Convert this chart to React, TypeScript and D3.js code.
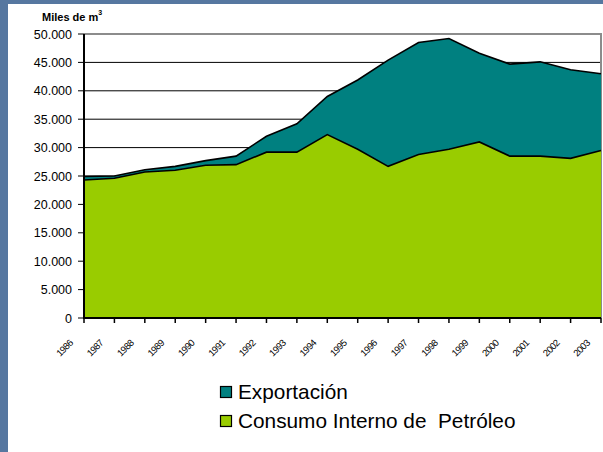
import React, { useEffect, useRef } from "react";
import * as d3 from "d3";

// data (miles de m3)
const years = [
  "1986", "1987", "1988", "1989", "1990", "1991", "1992", "1993", "1994",
  "1995", "1996", "1997", "1998", "1999", "2000", "2001", "2002", "2003",
];
const consumo = [
  24300, 24600, 25700, 26000, 26900, 27000, 29200, 29200, 32300,
  29700, 26700, 28800, 29700, 31000, 28500, 28500, 28100, 29500,
];
const exportacion = [
  600, 400, 400, 700, 800, 1500, 2800, 5000, 6700,
  12200, 18700, 19700, 19500, 15600, 16200, 16600, 15600, 13500,
];
const yTicks = [0, 5000, 10000, 15000, 20000, 25000, 30000, 35000, 40000, 45000, 50000];
const seriesNames = ["Consumo Interno de  Petróleo", "Exportación"];

const W = 603;
const H = 452;
const GREEN = "#99cc00";
const TEAL = "#008080";

const App = () => {
  const ref = useRef<SVGSVGElement>(null);

  useEffect(() => {
    const svg = d3.select(ref.current);
    svg.selectAll("*").remove();

    // slide background
    svg.append("rect").attr("width", W).attr("height", H).attr("fill", "#5677a0");
    svg.append("rect").attr("x", 8).attr("y", 4).attr("width", W - 8).attr("height", H - 4).attr("fill", "#fff");

    const left = 84;
    const right = 601;
    const top = 34;
    const bottom = 318;

    const x = d3.scalePoint<string>().domain(years).range([left, right]);
    const y = d3.scaleLinear().domain([0, 50000]).range([bottom, top]);
    const fmt = d3.formatLocale({ decimal: ",", thousands: ".", grouping: [3], currency: ["", ""] }).format(",d");

    // gridlines
    svg.append("g")
      .selectAll("line")
      .data(yTicks.filter((t) => t > 0 && t < 50000))
      .join("line")
      .attr("x1", left).attr("x2", right)
      .attr("y1", (d) => y(d)).attr("y2", (d) => y(d))
      .attr("stroke", "#000").attr("stroke-width", 1);

    // plot border top/right
    svg.append("path")
      .attr("d", `M${left},${y(50000)}H${right}V${bottom}`)
      .attr("fill", "none").attr("stroke", "#8c8c8c").attr("stroke-width", 2);

    const rows = years.map((yr, i) => ({ year: yr, consumo: consumo[i], exportacion: exportacion[i] }));
    const stacked = d3.stack<any>().keys(["consumo", "exportacion"])(rows);
    const colors = [GREEN, TEAL];

    const area = d3.area<any>()
      .x((d) => x(d.data.year) as number)
      .y0((d) => y(d[0]))
      .y1((d) => y(d[1]));
    const line = d3.line<any>()
      .x((d) => x(d.data.year) as number)
      .y((d) => y(d[1]));

    // draw teal (top) first, then green over it
    [1, 0].forEach((k) => {
      svg.append("path").datum(stacked[k]).attr("d", area).attr("fill", colors[k]);
    });
    [1, 0].forEach((k) => {
      svg.append("path").datum(stacked[k]).attr("d", line)
        .attr("fill", "none").attr("stroke", "#000").attr("stroke-width", 1.6);
    });

    // y axis
    const yAxis = svg.append("g");
    yAxis.append("line").attr("x1", left).attr("x2", left).attr("y1", top).attr("y2", bottom + 1)
      .attr("stroke", "#000").attr("stroke-width", 2);
    yAxis.selectAll("line.t").data(yTicks).join("line").attr("class", "t")
      .attr("x1", left - 6).attr("x2", left).attr("y1", (d) => y(d)).attr("y2", (d) => y(d))
      .attr("stroke", "#000").attr("stroke-width", 1);
    yAxis.selectAll("text").data(yTicks).join("text")
      .attr("x", 72).attr("y", (d) => y(d) + 4.5)
      .attr("text-anchor", "end")
      .attr("font-family", "Liberation Sans, Arial, sans-serif")
      .attr("font-size", 12.5)
      .attr("fill", "#000")
      .text((d) => fmt(d));

    // x axis
    const xAxis = svg.append("g");
    xAxis.append("line").attr("x1", left - 1).attr("x2", right).attr("y1", bottom).attr("y2", bottom)
      .attr("stroke", "#000").attr("stroke-width", 2);
    xAxis.selectAll("line.t").data(years).join("line").attr("class", "t")
      .attr("x1", (d) => x(d) as number).attr("x2", (d) => x(d) as number)
      .attr("y1", bottom).attr("y2", bottom + 5)
      .attr("stroke", "#000").attr("stroke-width", 1.5);
    xAxis.selectAll("text").data(years).join("text")
      .attr("transform", (d) => `translate(${(x(d) as number) - 19.5},${bottom + 30}) rotate(-45)`)
      .attr("text-anchor", "middle")
      .attr("dy", "0.35em")
      .attr("font-family", "Liberation Sans, Arial, sans-serif")
      .attr("font-size", 9.5)
      .attr("letter-spacing", -0.6)
      .attr("fill", "#000")
      .text((d) => d);

    // title
    const title = svg.append("text")
      .attr("x", 42).attr("y", 21)
      .attr("font-family", "Liberation Sans, Arial, sans-serif")
      .attr("font-size", 11).attr("font-weight", "bold").attr("fill", "#000");
    title.append("tspan").text("Miles de m");
    title.append("tspan").attr("font-size", 7).attr("dy", -6).text("3");

    // legend
    const legend = svg.append("g").attr("transform", "translate(220,386)");
    [1, 0].forEach((k, i) => {
      const g = legend.append("g").attr("transform", `translate(0,${i * 29})`);
      g.append("rect").attr("x", 0.5).attr("y", 0.5).attr("width", 11).attr("height", 11)
        .attr("fill", colors[k]).attr("stroke", "#000").attr("stroke-width", 1.2);
      g.append("text").attr("x", 18).attr("y", 12.5)
        .attr("font-family", "Liberation Sans, Arial, sans-serif")
        .attr("font-size", 20.8).attr("fill", "#000")
        .style("white-space", "pre")
        .text(seriesNames[k]);
    });
  });

  return (
    <div style={{ position: "absolute", left: 0, top: 0 }}>
      <svg ref={ref} width={W} height={H} style={{ display: "block" }}></svg>
    </div>
  );
};

export default App;
